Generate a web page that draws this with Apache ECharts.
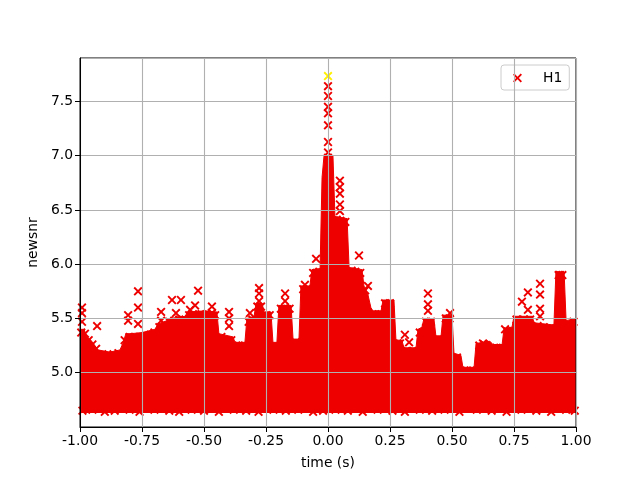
<!DOCTYPE html>
<html>
<head>
<meta charset="utf-8">
<script src="https://cdn.jsdelivr.net/npm/echarts@6/dist/echarts.min.js"></script>
<style>html,body{margin:0;padding:0;background:#fff}#c{width:640px;height:480px}</style>
</head>
<body>
<div id="c"></div>
<script>
// Upper envelope of the dense H1 trigger cloud (time, newsnr)
const envT = [-1.0,-0.984,-0.972,-0.956,-0.940,-0.927,-0.879,-0.839,-0.827,-0.815,-0.794,-0.750,-0.698,-0.685,-0.649,-0.637,-0.577,-0.565,-0.496,-0.448,-0.440,-0.383,-0.375,-0.335,-0.327,-0.298,-0.290,-0.266,-0.258,-0.230,-0.222,-0.206,-0.198,-0.149,-0.141,-0.117,-0.109,-0.073,-0.065,-0.032,-0.024,-0.016,0.020,0.028,0.077,0.085,0.137,0.145,0.161,0.173,0.181,0.214,0.222,0.266,0.274,0.298,0.306,0.355,0.363,0.379,0.387,0.427,0.435,0.456,0.464,0.500,0.508,0.536,0.544,0.589,0.597,0.653,0.665,0.702,0.710,0.742,0.750,0.823,0.831,0.911,0.919,0.952,0.960,1.0];
const envV = [5.40,5.40,5.33,5.30,5.25,5.21,5.19,5.21,5.27,5.36,5.36,5.37,5.40,5.45,5.48,5.50,5.52,5.56,5.57,5.56,5.36,5.33,5.28,5.28,5.50,5.52,5.64,5.64,5.56,5.56,5.28,5.28,5.62,5.62,5.31,5.31,5.80,5.80,5.95,5.96,6.80,7.00,7.00,6.44,6.42,5.97,5.95,5.80,5.72,5.60,5.57,5.57,5.67,5.67,5.30,5.30,5.23,5.23,5.40,5.42,5.50,5.50,5.34,5.34,5.53,5.53,5.18,5.16,5.05,5.05,5.27,5.29,5.26,5.26,5.41,5.42,5.52,5.52,5.46,5.44,5.93,5.93,5.48,5.50];
const envFloor = 4.63;

// Isolated H1 triggers above the cloud
const outT = [-0.992,-0.992,-0.992,-0.931,-0.806,-0.806,-0.766,-0.766,-0.766,-0.673,-0.673,-0.629,-0.593,-0.613,-0.556,-0.524,-0.536,-0.468,-0.468,-0.399,-0.399,-0.399,-0.315,-0.278,-0.278,-0.278,-0.173,-0.173,-0.093,-0.093,-0.048,0.0,0.0,0.0,0.0,0.0,0.0,0.0,0.0,0.048,0.048,0.048,0.048,0.048,0.125,0.161,0.310,0.327,0.403,0.403,0.403,0.492,0.625,0.633,0.714,0.782,0.806,0.806,0.855,0.855,0.855,0.855,0.935,0.968];
const outV = [5.60,5.55,5.47,5.43,5.48,5.53,5.75,5.60,5.45,5.56,5.48,5.67,5.67,5.55,5.58,5.756,5.62,5.61,5.55,5.56,5.50,5.43,5.55,5.78,5.73,5.66,5.73,5.66,5.81,5.75,6.05,7.64,7.55,7.45,7.39,7.28,7.126,7.03,6.98,6.77,6.71,6.65,6.55,6.49,6.08,5.80,5.35,5.28,5.73,5.63,5.57,5.55,5.27,5.22,5.40,5.655,5.74,5.58,5.82,5.72,5.59,5.52,5.90,5.45];

// H1 triggers forming the ragged top edge of the cloud
const edgeT = [-0.995,-0.98,-0.965,-0.95,-0.935,-0.91,-0.89,-0.865,-0.845,-0.82,-0.80,-0.78,-0.76,-0.735,-0.715,-0.70,-0.68,-0.66,-0.64,-0.62,-0.60,-0.585,-0.56,-0.545,-0.51,-0.49,-0.475,-0.455,-0.43,-0.41,-0.39,-0.36,-0.345,-0.32,-0.305,-0.285,-0.27,-0.25,-0.235,-0.215,-0.19,-0.175,-0.155,-0.13,-0.10,-0.085,-0.06,-0.045,-0.035,0.035,0.05,0.07,0.095,0.11,0.13,0.15,0.19,0.205,0.23,0.25,0.28,0.29,0.32,0.34,0.37,0.395,0.415,0.445,0.475,0.49,0.52,0.56,0.575,0.61,0.63,0.68,0.695,0.725,0.76,0.79,0.815,0.845,0.87,0.895,0.93,0.945,0.97,0.99];
const edgeV = [5.37,5.36,5.30,5.26,5.22,5.17,5.16,5.17,5.18,5.30,5.33,5.33,5.33,5.34,5.35,5.37,5.42,5.45,5.47,5.48,5.49,5.49,5.53,5.54,5.54,5.54,5.53,5.53,5.33,5.30,5.30,5.25,5.25,5.47,5.49,5.61,5.61,5.53,5.53,5.25,5.59,5.59,5.59,5.28,5.77,5.77,5.92,5.92,5.93,6.41,6.40,6.39,5.94,5.93,5.92,5.76,5.54,5.54,5.64,5.64,5.27,5.27,5.20,5.20,5.37,5.47,5.47,5.31,5.50,5.50,5.14,5.02,5.02,5.25,5.26,5.23,5.23,5.38,5.49,5.49,5.49,5.43,5.42,5.41,5.90,5.90,5.45,5.47];

// H1 triggers forming the ragged bottom edge of the cloud
const lowT = [-0.99,-0.95,-0.90,-0.86,-0.80,-0.76,-0.70,-0.64,-0.60,-0.55,-0.50,-0.44,-0.38,-0.33,-0.28,-0.22,-0.17,-0.12,-0.06,-0.02,0.03,0.08,0.14,0.20,0.26,0.31,0.37,0.42,0.47,0.53,0.60,0.66,0.72,0.78,0.84,0.90,0.96,0.995];
const lowV = [4.65,4.66,4.64,4.65,4.66,4.64,4.66,4.65,4.64,4.66,4.65,4.64,4.66,4.65,4.64,4.66,4.65,4.66,4.64,4.65,4.66,4.65,4.64,4.66,4.65,4.64,4.66,4.65,4.66,4.64,4.66,4.65,4.64,4.66,4.65,4.64,4.66,4.65];

// Loudest trigger (yellow)
const loudT = [0.0];
const loudV = [7.733];

const seriesName = 'H1';
const xLabel = 'time (s)';
const yLabel = 'newsnr';

const RED = '#ee0000';
const XPATH = 'path://M0,1.5L1.5,0L5,3.5L8.5,0L10,1.5L6.5,5L10,8.5L8.5,10L5,6.5L1.5,10L0,8.5L3.5,5Z';
const FONT = 'DejaVu Sans';
const FS = 13.9;

const pairs = (a, b) => a.map((t, i) => [t, b[i]]);
const h1Points = pairs(outT, outV).concat(pairs(edgeT, edgeV), pairs(lowT, lowV));

const chart = echarts.init(document.getElementById('c'), null, {renderer: 'canvas'});
chart.setOption({
  animation: false,
  backgroundColor: '#fff',
  grid: {left: 80, right: 64, top: 58, bottom: 53, show: true, borderColor: '#000', borderWidth: 1, z: 10, backgroundColor: 'transparent'},
  xAxis: {
    type: 'value', min: -1, max: 1, interval: 0.25, z: 10,
    axisLine: {show: true, onZero: false, lineStyle: {color: '#000', width: 1}},
    axisTick: {show: true, length: 5, lineStyle: {color: '#000'}},
    axisLabel: {formatter: v => v.toFixed(2), color: '#000', fontSize: FS, fontFamily: FONT, margin: 7},
    splitLine: {show: true, lineStyle: {color: '#b0b0b0', width: 1.1}},
    name: xLabel, nameLocation: 'middle', nameGap: 29,
    nameTextStyle: {color: '#000', fontSize: FS, fontFamily: FONT}
  },
  yAxis: {
    type: 'value', min: 4.5, max: 7.9, interval: 0.5, z: 10,
    axisLine: {show: true, onZero: false, lineStyle: {color: '#000', width: 1}},
    axisTick: {show: true, length: 5, lineStyle: {color: '#000'}},
    axisLabel: {formatter: v => v.toFixed(1), color: '#000', fontSize: FS, fontFamily: FONT, margin: 7, showMinLabel: false, showMaxLabel: false},
    splitLine: {show: true, lineStyle: {color: '#b0b0b0', width: 1.1}},
    name: yLabel, nameLocation: 'middle', nameGap: 38,
    nameTextStyle: {color: '#000', fontSize: FS, fontFamily: FONT}
  },
  legend: {
    data: [{name: seriesName, icon: XPATH, itemStyle: {color: RED, opacity: 1}}],
    left: 501, top: 65,
    padding: [6, 7, 5, 12],
    itemWidth: 9, itemHeight: 9,
    backgroundColor: 'rgba(255,255,255,0.8)',
    borderColor: '#cccccc', borderWidth: 1, borderRadius: 3,
    textStyle: {color: '#000', fontSize: FS, fontFamily: FONT, padding: [0, 0, 0, 16]}
  },
  series: [
    {
      name: 'cloud', type: 'line', silent: true, z: 2,
      data: pairs(envT, envV),
      showSymbol: false, symbol: 'none',
      lineStyle: {color: RED, width: 1},
      areaStyle: {color: RED, opacity: 1, origin: envFloor}
    },
    {
      name: seriesName, type: 'scatter', z: 3,
      data: h1Points,
      symbol: XPATH, symbolSize: 9,
      itemStyle: {color: RED, opacity: 1}
    },
    {
      name: 'loudest', type: 'scatter', z: 4,
      data: pairs(loudT, loudV),
      symbol: XPATH, symbolSize: 9,
      itemStyle: {color: '#fff000', opacity: 1}
    }
  ]
});
</script>
</body>
</html>
